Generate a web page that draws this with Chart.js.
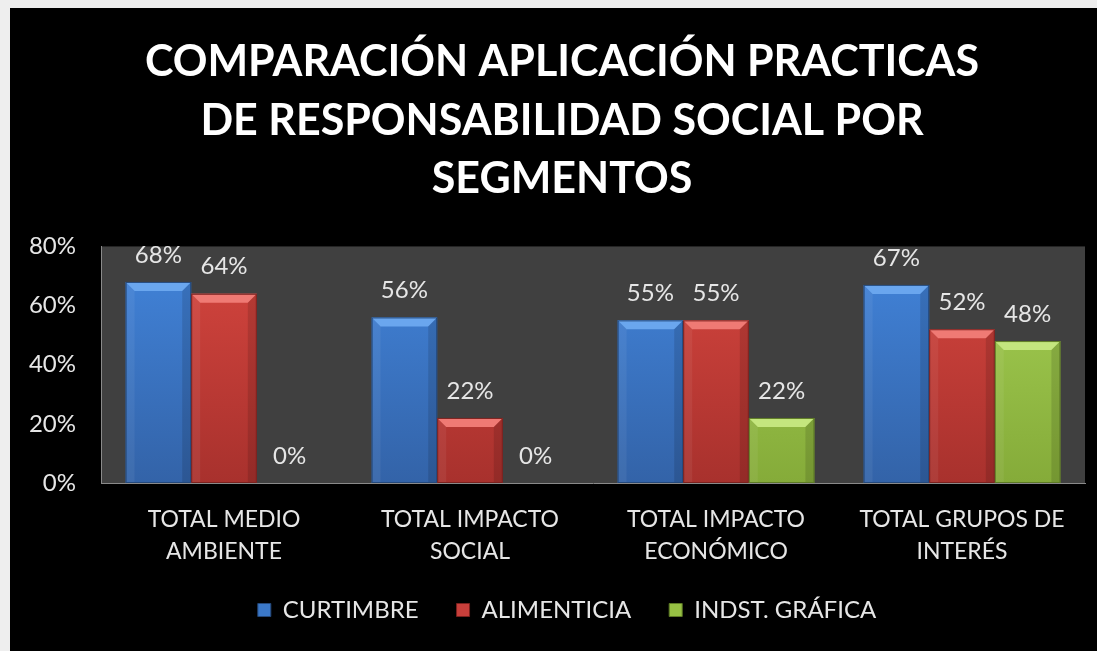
<!DOCTYPE html>
<html><head><meta charset="utf-8">
<script src="https://cdn.jsdelivr.net/npm/chart.js@4.4.0/dist/chart.umd.min.js"></script>
<style>
html,body{margin:0;padding:0;background:#eeeeee;width:1097px;height:651px;overflow:hidden;}
#panel{position:absolute;left:10px;top:8px;width:1087px;height:643px;background:#000;}
canvas{display:block;}
</style></head><body>
<div id="panel"><canvas id="c" width="1087" height="643"></canvas></div>
<script>
const categories = [["TOTAL MEDIO","AMBIENTE"],["TOTAL IMPACTO","SOCIAL"],["TOTAL IMPACTO","ECONÓMICO"],["TOTAL GRUPOS DE","INTERÉS"]];
const seriesNames = ["CURTIMBRE","ALIMENTICIA","INDST. GRÁFICA"];
const curtimbre = [68,56,55,67];
const alimenticia = [64,22,55,52];
const indstGrafica = [0,0,22,48];
const yTicks = [0,20,40,60,80];
const titleLines = ["COMPARACIÓN APLICACIÓN PRACTICAS","DE RESPONSABILIDAD SOCIAL POR","SEGMENTOS"];

const palette = [
  {top:'#4285dc', bottom:'#3363a8', solid:'#3b78c8', light:'#6aa6ee', edge:'#24487a'},
  {top:'#d6463f', bottom:'#a8312d', solid:'#c83f3b', light:'#ef7a74', edge:'#7a211e'},
  {top:'#a6d155', bottom:'#85ab39', solid:'#96c043', light:'#c4e67e', edge:'#5d7a25'}
];
const FONT = 'Lato, "Open Sans", sans-serif';
const TEXT = '#e6e6e6';

function grad(i){
  return function(ctx){
    const chart = ctx.chart, a = chart.chartArea;
    if(!a) return palette[i].solid;
    const g = chart.ctx.createLinearGradient(0, a.top, 0, a.bottom);
    g.addColorStop(0, palette[i].top);
    g.addColorStop(1, palette[i].bottom);
    return g;
  };
}

const plotBg = {
  id:'plotBg',
  beforeDraw(chart){
    const {ctx, chartArea:a} = chart;
    ctx.save(); ctx.fillStyle = '#404040';
    ctx.fillRect(a.left, a.top, a.right-a.left, a.bottom-a.top);
    ctx.restore();
  }
};

const bevel = {
  id:'bevel',
  afterDatasetsDraw(chart){
    const ctx = chart.ctx;
    chart.data.datasets.forEach((ds, i) => {
      const meta = chart.getDatasetMeta(i);
      meta.data.forEach(bar => {
        const p = bar.getProps(['x','y','base','width'], true);
        const h = p.base - p.y; if (h < 2) return;
        const l = p.x - p.width/2, r = p.x + p.width/2, t = p.y, b = Math.min(9, h/2);
        ctx.save();
        ctx.fillStyle = palette[i].light;
        ctx.beginPath(); ctx.moveTo(l,t); ctx.lineTo(r,t); ctx.lineTo(r-b,t+b); ctx.lineTo(l+b,t+b); ctx.closePath(); ctx.fill();
        ctx.fillStyle = 'rgba(0,0,0,0.12)';
        ctx.beginPath(); ctx.moveTo(r,t); ctx.lineTo(r,p.base); ctx.lineTo(r-b,p.base); ctx.lineTo(r-b,t+b); ctx.closePath(); ctx.fill();
        ctx.fillStyle = 'rgba(255,255,255,0.06)';
        ctx.beginPath(); ctx.moveTo(l,t); ctx.lineTo(l,p.base); ctx.lineTo(l+b,p.base); ctx.lineTo(l+b,t+b); ctx.closePath(); ctx.fill();
        ctx.strokeStyle = palette[i].edge; ctx.lineWidth = 1;
        ctx.strokeRect(l+0.5, t+0.5, p.width-1, h-1);
        ctx.restore();
      });
    });
  }
};

const valueLabels = {
  id:'valueLabels',
  afterDatasetsDraw(chart){
    const ctx = chart.ctx;
    ctx.save();
    ctx.font = '24px ' + FONT; ctx.fillStyle = TEXT;
    ctx.textAlign = 'center'; ctx.textBaseline = 'middle';
    chart.data.datasets.forEach((ds, i) => {
      chart.getDatasetMeta(i).data.forEach((bar, j) => {
        ctx.fillText(ds.data[j] + '%', bar.x, bar.y - 27);
      });
    });
    ctx.restore();
  }
};

const boxShift = {
  id:'boxShift',
  afterLayout(chart){
    const lg = chart.legend;
    if (lg) { const d = 557 - (lg.left + lg.right) / 2; lg.left += d; lg.right += d; }
    const tb = chart.titleBlock;
    if (tb) { const d = 552 - (tb.left + tb.right) / 2; tb.left += d; tb.right += d; }
  }
};

function draw(){
  new Chart(document.getElementById('c'), {
    type:'bar',
    data:{
      labels: categories,
      datasets:[
        {label: seriesNames[0], data: curtimbre, backgroundColor: grad(0)},
        {label: seriesNames[1], data: alimenticia, backgroundColor: grad(1)},
        {label: seriesNames[2], data: indstGrafica, backgroundColor: grad(2)}
      ]
    },
    options:{
      responsive:false, animation:false,
      layout:{padding:{left:17,right:12,top:0,bottom:19}},
      datasets:{bar:{categoryPercentage:0.8, barPercentage:1.0}},
      scales:{
        x:{
          grid:{display:false, drawTicks:false},
          border:{display:true, color:'#8a8a8a', width:1},
          ticks:{color:TEXT, font:{family:FONT, size:23, lineHeight:1.39}, padding:21, maxRotation:0, autoSkip:false},
          afterFit(s){ s.height = 77; }
        },
        y:{
          min:0, max:80,
          grid:{display:false, drawTicks:false},
          border:{display:true, color:'#8a8a8a', width:1},
          ticks:{color:TEXT, font:{family:FONT, size:24}, padding:25, stepSize:20, callback:v => v + '%'},
          afterBuildTicks(s){ s.ticks = yTicks.map(v => ({value:v})); },
          afterFit(s){ s.width = 74; }
        }
      },
      plugins:{
        title:{display:true, text:titleLines, color:'#ffffff',
          font:{family:FONT, size:43, weight:'bold', lineHeight:1.36}, padding:{top:25,bottom:38}},
        legend:{position:'bottom', align:'center',
          labels:{color:TEXT, font:{family:FONT, size:24}, boxWidth:13, boxHeight:13, padding:38,
            generateLabels: chart => chart.data.datasets.map((ds,i) => ({
              text: ds.label, fillStyle: palette[i].solid, strokeStyle: palette[i].edge, lineWidth:1,
              hidden:false, datasetIndex:i, fontColor: TEXT
            }))
          }},
        tooltip:{enabled:false}
      }
    },
    plugins:[plotBg, bevel, valueLabels, boxShift]
  });
}
Promise.all([document.fonts.load('24px Lato'), document.fonts.load('bold 43px Lato')]).then(draw, draw);
</script>
</body></html>
